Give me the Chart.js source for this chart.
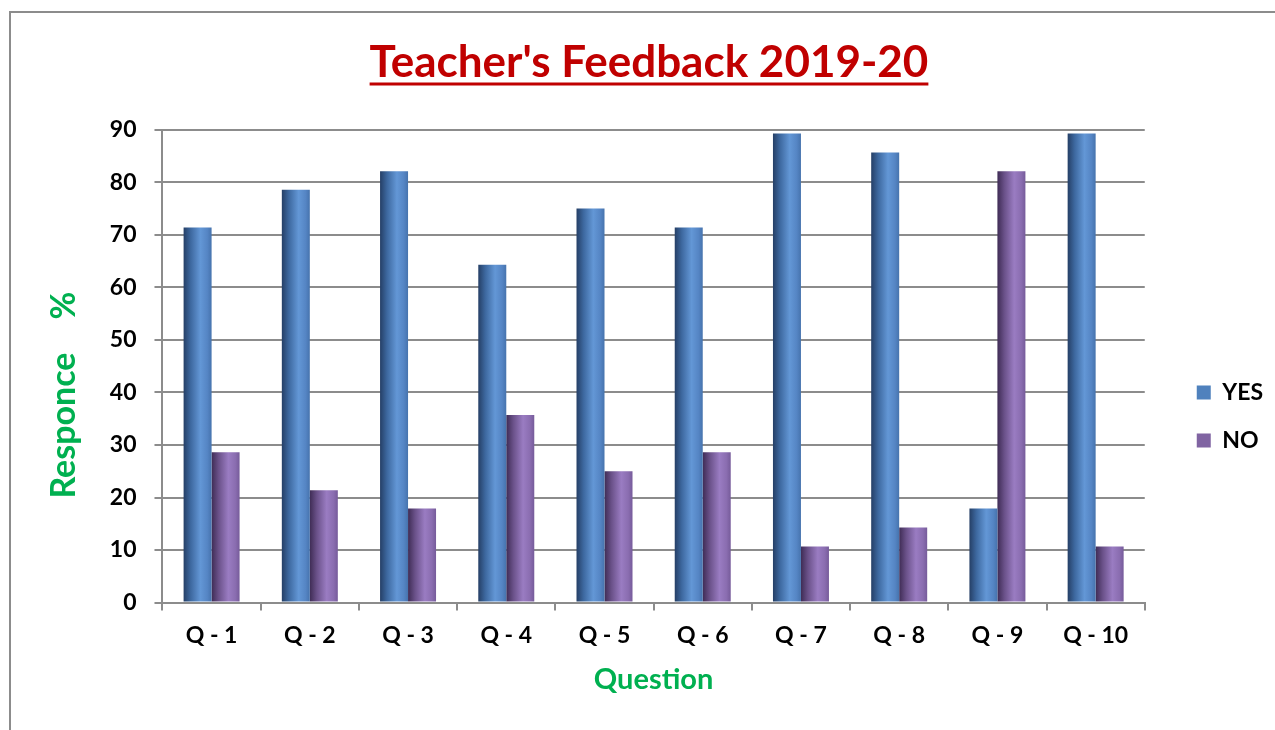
<!DOCTYPE html>
<html>
<head>
<meta charset="utf-8">
<script src="https://cdn.jsdelivr.net/npm/chart.js@4"></script>
<style>
  html,body{margin:0;padding:0;background:#fff;overflow:hidden;}
  #frame{position:absolute;left:9px;top:11px;width:1300px;height:800px;border:2px solid #8c8c8c;box-sizing:border-box;}
  #c{position:absolute;left:0;top:0;}
</style>
</head>
<body>
<div id="frame"></div>
<canvas id="c" width="1275" height="730"></canvas>
<script>
const categories = ['Q - 1','Q - 2','Q - 3','Q - 4','Q - 5','Q - 6','Q - 7','Q - 8','Q - 9','Q - 10'];
const yesValues = [71.4, 78.6, 82.1, 64.3, 75.0, 71.4, 89.3, 85.7, 17.9, 89.3];
const noValues  = [28.6, 21.4, 17.9, 35.7, 25.0, 28.6, 10.7, 14.3, 82.1, 10.7];
const seriesNames = ['YES','NO'];
const yTicks = [0,10,20,30,40,50,60,70,80,90];

const FONT = 'Lato, "Open Sans", sans-serif';
const TITLE_SIZE = 44;
const stops = [
  [[0,'#253f66'],[0.25,'#3d689f'],[0.6,'#6397d6'],[0.85,'#5585c4'],[1,'#4673ad']],
  [[0,'#3f2c55'],[0.25,'#6a5189'],[0.6,'#9a7cc2'],[0.85,'#8a6db0'],[1,'#765b9a']]
];

const shade = {
  id:'shade',
  beforeDatasetsDraw(chart){
    const ctx = chart.ctx;
    chart.data.datasets.forEach((ds,di)=>{
      const meta = chart.getDatasetMeta(di);
      meta.data.forEach(el=>{
        const x0 = el.x - el.width/2, x1 = el.x + el.width/2;
        const g = ctx.createLinearGradient(x0,0,x1,0);
        stops[di].forEach(([o,c])=>g.addColorStop(o,c));
        el.options = Object.assign({}, el.options, {backgroundColor:g});
      });
    });
  }
};

const boxShift = {
  id:'boxShift',
  afterLayout(chart){
    const lg = chart.legend;
    if(lg){ lg.left += 27; lg.right += 27; lg.top += 48; lg.bottom += 48; }
    const tb = chart.titleBlock;
    if(tb){ tb.left += 16; tb.right += 16; }
  }
};

const underline = {
  id:'underline',
  afterDraw(chart){
    const tb = chart.titleBlock;
    if(!tb) return;
    const ctx = chart.ctx;
    ctx.save();
    ctx.font = 'bold ' + TITLE_SIZE + 'px ' + FONT;
    const w = ctx.measureText(chart.options.plugins.title.text).width;
    const cx = (tb.left + tb.right)/2;
    ctx.strokeStyle = '#C00000';
    ctx.lineWidth = 3;
    ctx.beginPath();
    ctx.moveTo(cx - w/2, 84);
    ctx.lineTo(cx + w/2, 84);
    ctx.stroke();
    ctx.restore();
  }
};

new Chart(document.getElementById('c'), {
  type:'bar',
  data:{
    labels: categories,
    datasets:[
      {label: seriesNames[0], data: yesValues, backgroundColor:'#4F81BD', borderWidth:0},
      {label: seriesNames[1], data: noValues, backgroundColor:'#8064A2', borderWidth:0}
    ]
  },
  options:{
    responsive:false,
    animation:false,
    devicePixelRatio:1,
    categoryPercentage:0.57,
    barPercentage:1.0,
    layout:{padding:{top:36,left:20,right:29,bottom:29}},
    plugins:{
      title:{display:true,text:"Teacher's Feedback 2019-20",color:'#C00000',
        font:{family:FONT,size:TITLE_SIZE,weight:'bold'},padding:{top:0,bottom:41}},
      legend:{position:'right',
        labels:{boxWidth:14,boxHeight:14,padding:25,color:'#000',font:{family:FONT,size:23,weight:'bold'}}},
      tooltip:{enabled:false}
    },
    scales:{
      x:{
        grid:{drawOnChartArea:false,drawTicks:true,tickLength:8,color:'#8c8c8c',lineWidth:2,offset:true},
        border:{color:'#8c8c8c',width:2},
        ticks:{color:'#000',font:{family:FONT,size:23,weight:'bold'},padding:11,maxRotation:0},
        title:{display:true,text:'Question',color:'#00B050',font:{family:FONT,size:29,weight:'bold'},padding:{top:2,bottom:4}}
      },
      y:{
        min:0,max:90,
        afterBuildTicks(scale){ scale.ticks = yTicks.map(v=>({value:v})); },
        grid:{color:'#8c8c8c',lineWidth:2,tickLength:8,drawTicks:true},
        border:{color:'#8c8c8c',width:2},
        ticks:{color:'#000',font:{family:FONT,size:23,weight:'bold'},padding:18,stepSize:10},
        title:{display:true,text:'Responce    %       ',color:'#00B050',font:{family:FONT,size:34,weight:'bold'},padding:{top:24,bottom:7}}
      }
    }
  },
  plugins:[shade, boxShift, underline]
});
</script>
</body>
</html>
